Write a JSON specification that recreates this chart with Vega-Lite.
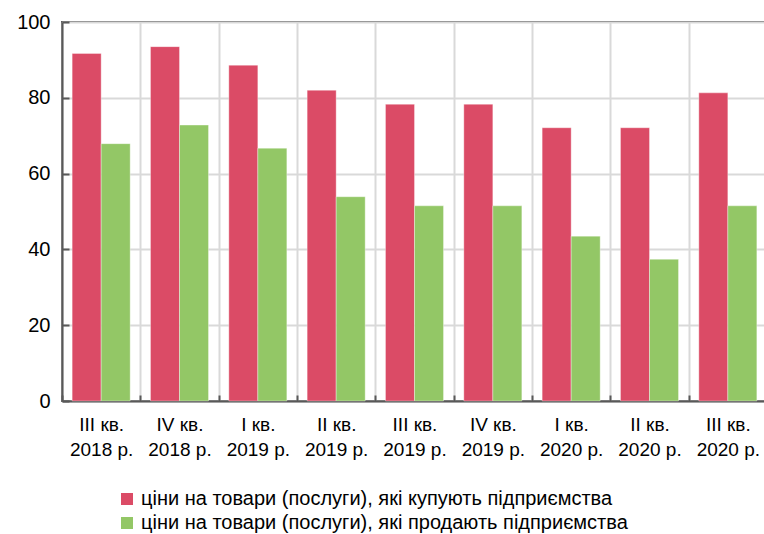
{
  "$schema": "https://vega.github.io/schema/vega-lite/v6.json",
  "width": 705,
  "height": 379,
  "autosize": {"type": "none"},
  "padding": {"left": 62, "top": 22, "right": 0, "bottom": 133},
  "background": "white",
  "config": {
    "font": "Liberation Sans",
    "view": {"stroke": "#595959", "strokeWidth": 2},
    "axis": {"labelColor": "#000000", "labelFont": "Liberation Sans"},
    "legend": {"labelFont": "Liberation Sans"}
  },
  "data": {
    "values": [
      {"q": "III кв. 2018 р.", "s": "ціни на товари (послуги), які купують підприємства", "v": 91.7},
      {"q": "III кв. 2018 р.", "s": "ціни на товари (послуги), які продають підприємства", "v": 67.9},
      {"q": "IV кв. 2018 р.", "s": "ціни на товари (послуги), які купують підприємства", "v": 93.5},
      {"q": "IV кв. 2018 р.", "s": "ціни на товари (послуги), які продають підприємства", "v": 72.8},
      {"q": "I кв. 2019 р.", "s": "ціни на товари (послуги), які купують підприємства", "v": 88.6},
      {"q": "I кв. 2019 р.", "s": "ціни на товари (послуги), які продають підприємства", "v": 66.7},
      {"q": "II кв. 2019 р.", "s": "ціни на товари (послуги), які купують підприємства", "v": 82.0},
      {"q": "II кв. 2019 р.", "s": "ціни на товари (послуги), які продають підприємства", "v": 53.9},
      {"q": "III кв. 2019 р.", "s": "ціни на товари (послуги), які купують підприємства", "v": 78.3},
      {"q": "III кв. 2019 р.", "s": "ціни на товари (послуги), які продають підприємства", "v": 51.5},
      {"q": "IV кв. 2019 р.", "s": "ціни на товари (послуги), які купують підприємства", "v": 78.3},
      {"q": "IV кв. 2019 р.", "s": "ціни на товари (послуги), які продають підприємства", "v": 51.5},
      {"q": "I кв. 2020 р.", "s": "ціни на товари (послуги), які купують підприємства", "v": 72.1},
      {"q": "I кв. 2020 р.", "s": "ціни на товари (послуги), які продають підприємства", "v": 43.5},
      {"q": "II кв. 2020 р.", "s": "ціни на товари (послуги), які купують підприємства", "v": 72.1},
      {"q": "II кв. 2020 р.", "s": "ціни на товари (послуги), які продають підприємства", "v": 37.4},
      {"q": "III кв. 2020 р.", "s": "ціни на товари (послуги), які купують підприємства", "v": 81.3},
      {"q": "III кв. 2020 р.", "s": "ціни на товари (послуги), які продають підприємства", "v": 51.5}
    ]
  },
  "mark": {"type": "bar", "stroke": "#ffffff", "strokeWidth": 1, "strokeOpacity": 0.35},
  "encoding": {
    "x": {
      "field": "q",
      "type": "nominal",
      "sort": null,
      "scale": {"paddingInner": 0, "paddingOuter": 0},
      "axis": {
        "title": null,
        "labelAngle": 0,
        "labelFontSize": 19,
        "labelLineHeight": 25,
        "labelBaseline": "alphabetic",
        "labelPadding": 35,
        "labelExpr": "[slice(datum.label, 0, indexof(datum.label, '.') + 1), slice(datum.label, indexof(datum.label, '.') + 2)]",
        "tickBand": "extent",
        "tickSize": -6,
        "tickWidth": 2,
        "tickColor": "#595959",
        "domainColor": "#595959",
        "domainWidth": 2,
        "grid": true,
        "gridColor": "#d9d9d9",
        "gridWidth": 2
      }
    },
    "xOffset": {
      "field": "s",
      "type": "nominal",
      "sort": null,
      "scale": {"paddingInner": 0, "paddingOuter": 0.35}
    },
    "y": {
      "field": "v",
      "type": "quantitative",
      "scale": {"domain": [0, 100], "nice": false},
      "axis": {
        "title": null,
        "values": [0, 20, 40, 60, 80, 100],
        "labelFontSize": 20,
        "labelPadding": 19,
        "tickSize": -7,
        "tickWidth": 2,
        "tickColor": "#595959",
        "domainColor": "#595959",
        "domainWidth": 2,
        "grid": true,
        "gridColor": "#d9d9d9",
        "gridWidth": 2
      }
    },
    "color": {
      "field": "s",
      "type": "nominal",
      "sort": null,
      "scale": {
        "domain": ["ціни на товари (послуги), які купують підприємства", "ціни на товари (послуги), які продають підприємства"],
        "range": ["#DB4B66", "#93C766"]
      },
      "legend": {
        "title": null,
        "orient": "none",
        "legendX": 55,
        "legendY": 467,
        "direction": "vertical",
        "padding": 0,
        "symbolType": "square",
        "symbolSize": 144,
        "symbolStrokeWidth": 0,
        "symbolOpacity": 1,
        "labelFontSize": 20,
        "labelColor": "#000000",
        "labelOffset": 4,
        "labelLimit": 0,
        "rowPadding": 4
      }
    }
  }
}
